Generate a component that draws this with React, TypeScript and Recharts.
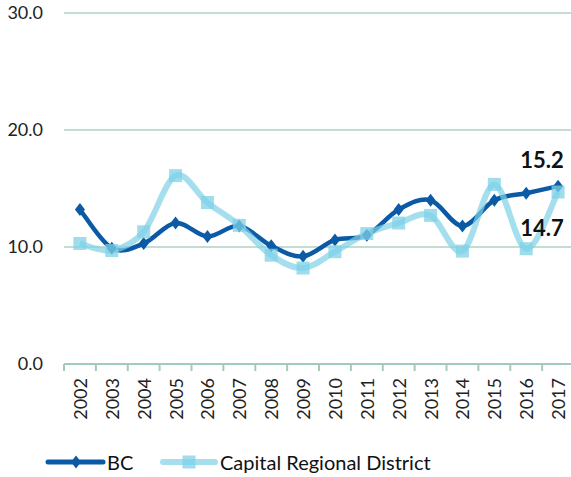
import React from "react";
import { LineChart, Line, XAxis, YAxis, CartesianGrid, LabelList } from "recharts";

const years = ["2002","2003","2004","2005","2006","2007","2008","2009","2010","2011","2012","2013","2014","2015","2016","2017"];
const bcValues = [13.2, 9.9, 10.3, 12.05, 10.9, 11.8, 10.1, 9.2, 10.6, 11.0, 13.2, 14.0, 11.8, 14.0, 14.6, 15.2];
const crdValues = [10.3, 9.7, 11.3, 16.1, 13.8, 11.85, 9.3, 8.2, 9.6, 11.15, 12.05, 12.7, 9.65, 15.35, 9.85, 14.7];
const yTicks = [0, 10, 20, 30];
const seriesNames = ["BC", "Capital Regional District"];

const data = years.map((y, i) => ({ year: y, bc: bcValues[i], crd: crdValues[i] }));

const FONT = "Lato, 'Noto Sans', sans-serif";
const BC_COLOR = "#0a5aa5";
const CRD_COLOR = "#7fd1e7";
const GRID = "#c3ddd2";
const AXIS = "#a2cbb9";

const CHART_W = 575;
const CHART_H = 477;
const LEFT = 64;
const RIGHT = 1;
const TOP = 13;
const PLOT_H = 351;
const XAXIS_H = 70;
const BOTTOM = CHART_H - TOP - PLOT_H - XAXIS_H;
const BW = (CHART_W - LEFT - RIGHT) / years.length;

// Excel-like smoothed curve (Catmull-Rom as cubic Beziers)
function smoothCurve(context: any) {
  let pts: number[][] = [];
  return {
    areaStart() {},
    areaEnd() {},
    lineStart() { pts = []; },
    point(x: number, y: number) { pts.push([+x, +y]); },
    lineEnd() {
      const n = pts.length;
      if (!n) return;
      context.moveTo(pts[0][0], pts[0][1]);
      for (let i = 0; i < n - 1; i++) {
        const p0 = pts[Math.max(i - 1, 0)];
        const p1 = pts[i];
        const p2 = pts[i + 1];
        const p3 = pts[Math.min(i + 2, n - 1)];
        const c1x = p1[0] + (p2[0] - p0[0]) / 6;
        const c1y = p1[1] + (p2[1] - p0[1]) / 6;
        const c2x = p2[0] - (p3[0] - p1[0]) / 6;
        const c2y = p2[1] - (p3[1] - p1[1]) / 6;
        context.bezierCurveTo(c1x, c1y, c2x, c2y, p2[0], p2[1]);
      }
    },
  };
}

const Diamond = (props: any) => {
  const { cx, cy, index } = props;
  if (cx == null || cy == null) return <g key={`d${index}`} />;
  return (
    <polygon
      key={`d${index}`}
      points={`${cx},${cy - 6.5} ${cx + 5},${cy} ${cx},${cy + 6.5} ${cx - 5},${cy}`}
      fill={BC_COLOR}
    />
  );
};

const Square = (props: any) => {
  const { cx, cy, index } = props;
  if (cx == null || cy == null) return <g key={`s${index}`} />;
  return (
    <rect key={`s${index}`} x={cx - 6.5} y={cy - 6.5} width={13} height={13} fill={CRD_COLOR} fillOpacity={0.75} />
  );
};

const XTick = (props: any) => {
  const { x, y, payload, index } = props;
  const left = x - BW / 2;
  return (
    <g>
      <line x1={left} y1={y} x2={left} y2={y + 7} stroke={AXIS} strokeWidth={2} />
      {index === years.length - 1 && (
        <line x1={x + BW / 2} y1={y} x2={x + BW / 2} y2={y + 7} stroke={AXIS} strokeWidth={2} />
      )}
      <text
        x={x}
        y={y + 14}
        transform={`rotate(-90, ${x}, ${y + 14})`}
        textAnchor="end"
        dominantBaseline="central"
        fontFamily={FONT}
        fontSize={18}
        fill="#222"
      >
        {payload.value}
      </text>
    </g>
  );
};

const lastLabel = (dx: number, dy: number) => (props: any) => {
  const { x, y, index, value } = props;
  if (index !== years.length - 1) return null;
  return (
    <text
      x={x + dx}
      y={y + dy}
      textAnchor="middle"
      dominantBaseline="central"
      fontFamily={FONT}
      fontWeight="bold"
      fontSize={22}
      fill="#111"
    >
      {Number(value).toFixed(1)}
    </text>
  );
};

export default function App() {
  return (
    <div style={{ position: "absolute", left: 0, top: 0, width: 571, height: 477, overflow: "hidden", background: "#fff" }}>
      <LineChart
        width={CHART_W}
        height={CHART_H}
        data={data}
        margin={{ top: TOP, right: RIGHT, left: 0, bottom: BOTTOM }}
        style={{ fontFamily: FONT }}
      >
        <CartesianGrid horizontal vertical={false} stroke={GRID} strokeWidth={2} />
        <XAxis
          dataKey="year"
          height={XAXIS_H}
          interval={0}
          padding={{ left: BW / 2, right: BW / 2 }}
          tickLine={false}
          tickSize={0}
          tickMargin={0}
          axisLine={{ stroke: AXIS, strokeWidth: 2 }}
          tick={<XTick />}
        />
        <YAxis
          width={LEFT}
          domain={[0, 30]}
          ticks={yTicks}
          axisLine={false}
          tickLine={false}
          tickSize={0}
          tickMargin={21}
          tickFormatter={(v: number) => v.toFixed(1)}
          tick={{ fontFamily: FONT, fontSize: 18, fill: "#222" }}
        />
        <Line
          dataKey="bc"
          name={seriesNames[0]}
          type={smoothCurve as any}
          stroke={BC_COLOR}
          strokeWidth={4.5}
          dot={Diamond}
          activeDot={false}
          isAnimationActive={false}
        >
          <LabelList dataKey="bc" content={lastLabel(-16, -27)} />
        </Line>
        <Line
          dataKey="crd"
          name={seriesNames[1]}
          type={smoothCurve as any}
          stroke={CRD_COLOR}
          strokeOpacity={0.7}
          strokeWidth={6}
          dot={Square}
          activeDot={false}
          isAnimationActive={false}
        >
          <LabelList dataKey="crd" content={lastLabel(-16, 35)} />
        </Line>
      </LineChart>
      <svg width={571} height={40} style={{ position: "absolute", left: 0, top: 442 }}>
        <line x1={48} y1={20} x2={103} y2={20} stroke={BC_COLOR} strokeWidth={5} strokeLinecap="round" />
        <polygon points={`76,13.5 81,20 76,26.5 71,20`} fill={BC_COLOR} />
        <text x={107} y={20} dominantBaseline="central" fontFamily={FONT} fontSize={20} fill="#111">{seriesNames[0]}</text>
        <line x1={163} y1={20} x2={215} y2={20} stroke={CRD_COLOR} strokeOpacity={0.7} strokeWidth={6} strokeLinecap="round" />
        <rect x={182.5} y={13.5} width={13} height={13} fill={CRD_COLOR} fillOpacity={0.75} />
        <text x={220} y={20} dominantBaseline="central" fontFamily={FONT} fontSize={20} fill="#111">{seriesNames[1]}</text>
      </svg>
    </div>
  );
}
